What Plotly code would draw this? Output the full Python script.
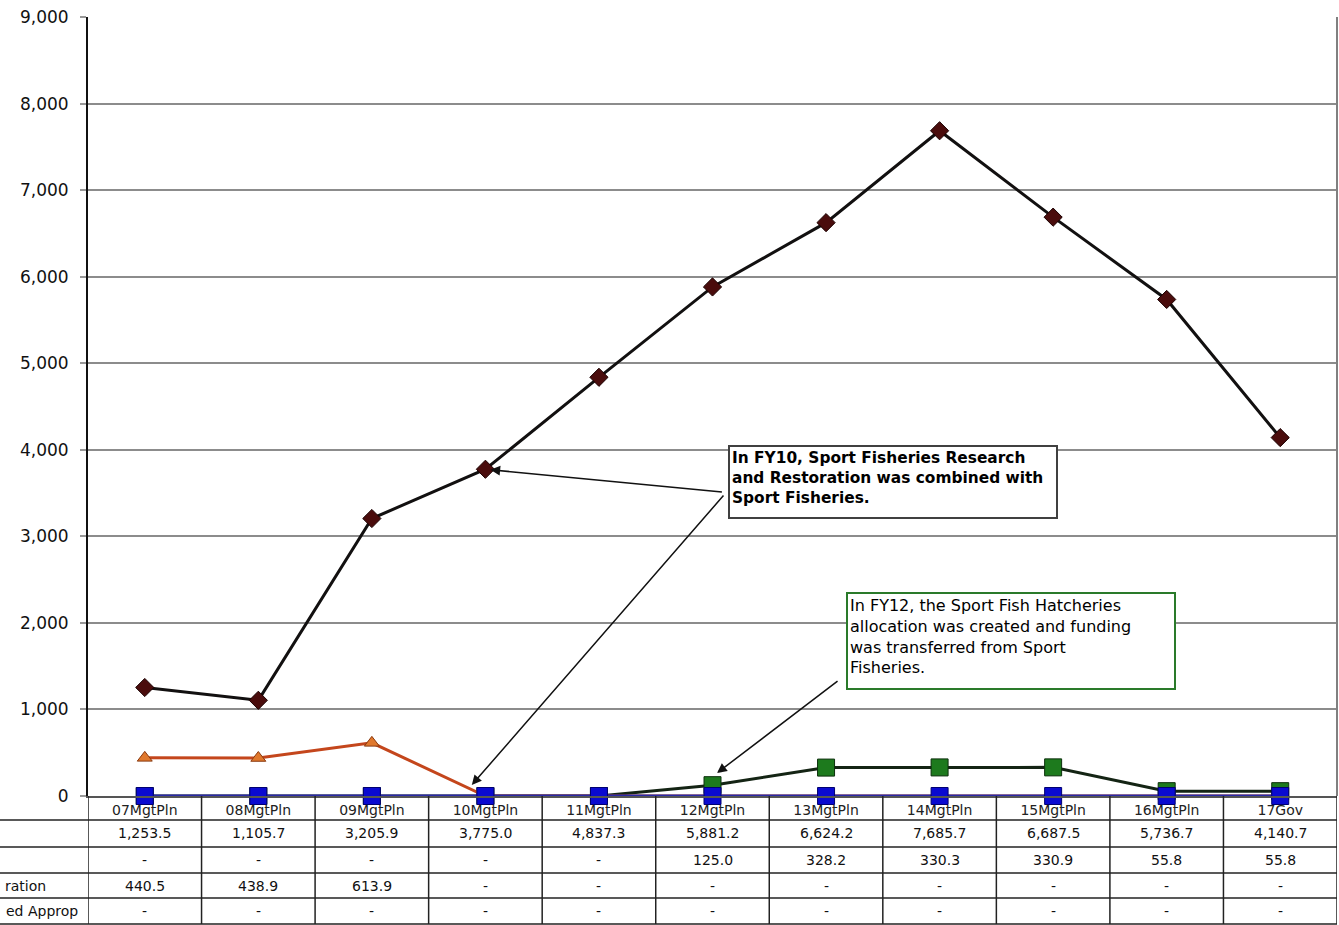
import plotly.graph_objects as go

# ---------------- data ----------------
categories = ["07MgtPln", "08MgtPln", "09MgtPln", "10MgtPln", "11MgtPln", "12MgtPln",
              "13MgtPln", "14MgtPln", "15MgtPln", "16MgtPln", "17Gov"]
sport_fisheries = [1253.5, 1105.7, 3205.9, 3775.0, 4837.3, 5881.2, 6624.2, 7685.7, 6687.5, 5736.7, 4140.7]
sport_fish_hatcheries = [0, 0, 0, 0, 0, 125.0, 328.2, 330.3, 330.9, 55.8, 55.8]
research_restoration = [440.5, 438.9, 613.9, 0, 0, 0, 0, 0, 0, 0, 0]
designated_approp = [0, 0, 0, 0, 0, 0, 0, 0, 0, 0, 0]
# row labels as visible in the (left-cropped) reference table
row_labels = ["", "", "ration", "ed Approp"]
y_tick_values = [0, 1000, 2000, 3000, 4000, 5000, 6000, 7000, 8000, 9000]

# ---------------- layout geometry ----------------
W, H = 1339, 925
ML, MR, MT, MB = 88, 2, 17, 129
PH = H - MT - MB
PW = W - ML - MR


def py(p):  # pixel row -> paper y
    return (H - MB - p) / PH


def px(p):  # pixel col -> paper x
    return (p - ML) / PW


TFONT = "DejaVu Sans"

fig = go.Figure()

fig.add_trace(go.Scatter(
    x=categories, y=sport_fisheries, mode="lines+markers", cliponaxis=False,
    line=dict(color="#121010", width=3),
    marker=dict(symbol="diamond", size=14, color="#4a0c0c", line=dict(color="#1a0000", width=1))))
fig.add_trace(go.Scatter(
    x=categories, y=sport_fish_hatcheries, mode="lines+markers", cliponaxis=False,
    line=dict(color="#142414", width=3),
    marker=dict(symbol="square", size=17, color="#1d7a1d", line=dict(color="#0c300c", width=1))))
fig.add_trace(go.Scatter(
    x=categories, y=research_restoration, mode="lines+markers", cliponaxis=False,
    line=dict(color="#c4461c", width=3),
    marker=dict(symbol="triangle-up", size=13, color="#e0782c", line=dict(color="#8a3a10", width=1))))
fig.add_trace(go.Scatter(
    x=categories, y=designated_approp, mode="lines+markers", cliponaxis=False,
    line=dict(color="#2a2aa8", width=3),
    marker=dict(symbol="square", size=17, color="#0a0ad0", line=dict(color="#000070", width=1))))

shapes = []
annotations = []

# right frame border
shapes.append(dict(type="line", xref="paper", yref="paper", x0=1, x1=1, y0=0, y1=1,
                   line=dict(color="#808080", width=2)))

# ---------------- data table below the chart ----------------
row_lines_px = [820, 847, 873, 898, 924]
for p in row_lines_px:
    shapes.append(dict(type="line", xref="paper", yref="paper", x0=px(0), x1=1,
                       y0=py(p), y1=py(p), line=dict(color="#222222", width=1.5)))
for i in range(len(categories) + 1):
    shapes.append(dict(type="line", xref="x", yref="paper", x0=i - 0.5, x1=i - 0.5,
                       y0=0, y1=py(924), line=dict(color="#222222", width=1.5)))

series_rows = [sport_fisheries, sport_fish_hatcheries, research_restoration, designated_approp]
row_centers_px = [833, 860, 886, 911]
for vals, yc in zip(series_rows, row_centers_px):
    for c, v in zip(categories, vals):
        annotations.append(dict(
            x=c, xref="x", y=py(yc), yref="paper", showarrow=False,
            text=f"{v:,.1f}" if v else "-",
            font=dict(family=TFONT, size=14, color="#111111"),
            xanchor="center", yanchor="middle"))

label_left_px = [2, 2, 3, 4]
for lab, yc, lp in zip(row_labels, row_centers_px, label_left_px):
    if lab:
        annotations.append(dict(
            x=px(lp), xref="paper", y=py(yc), yref="paper", showarrow=False, text=lab,
            font=dict(family=TFONT, size=14, color="#111111"), xanchor="left", yanchor="middle"))

# ---------------- callouts ----------------
annotations.append(dict(
    x=px(728), y=py(445), xref="paper", yref="paper", xanchor="left", yanchor="top",
    showarrow=False, align="left", width=322, height=66, valign="top",
    text="<b>In FY10, Sport Fisheries Research<br>and Restoration was combined with<br>Sport Fisheries.</b>",
    font=dict(family=TFONT, size=15.4, color="#000000"),
    bgcolor="white", bordercolor="#404040", borderwidth=2, borderpad=2))
annotations.append(dict(
    x=px(846), y=py(592), xref="paper", yref="paper", xanchor="left", yanchor="top",
    showarrow=False, align="left", width=322, height=90, valign="top",
    text="In FY12, the Sport Fish Hatcheries<br>allocation was created and funding<br>was transferred from Sport<br>Fisheries.",
    font=dict(family=TFONT, size=16, color="#000000"),
    bgcolor="white", bordercolor="#2a7a2a", borderwidth=2, borderpad=2))

arrow_style = dict(showarrow=True, arrowhead=2, arrowsize=1.3, arrowwidth=1.5,
                   arrowcolor="#111111", text="", xref="x", yref="y", axref="pixel", ayref="pixel")
# to FY10 Sport Fisheries point
annotations.append(dict(x=3, y=sport_fisheries[3], ax=238, ay=23, standoff=5, **arrow_style))
# to FY10 Research & Restoration point (zero)
annotations.append(dict(x=2.88, y=127, ax=253, ay=-291, **arrow_style))
# to FY12 hatcheries point
annotations.append(dict(x=5.04, y=266, ax=122, ay=-93, **arrow_style))

fig.update_layout(
    width=W, height=H,
    margin=dict(l=ML, r=MR, t=MT, b=MB, autoexpand=False),
    paper_bgcolor="white", plot_bgcolor="white",
    showlegend=False,
    shapes=shapes, annotations=annotations,
    xaxis=dict(
        type="category", categoryorder="array", categoryarray=categories,
        range=[-0.5, len(categories) - 0.5], automargin=False,
        showgrid=False, zeroline=False, showline=True, linecolor="#555555", linewidth=2,
        ticks="", ticklabelstandoff=0,
        tickfont=dict(family=TFONT, size=14, color="#222222")),
    yaxis=dict(
        range=[0, 9000], tickvals=y_tick_values, tickformat=",", automargin=False,
        showgrid=True, gridcolor="#8c8c8c", gridwidth=2,
        zeroline=False, showline=True, linecolor="#111111", linewidth=2,
        ticks="outside", ticklen=6, tickcolor="#999999", tickwidth=2, ticklabelstandoff=8,
        tickfont=dict(family=TFONT, size=17, color="#111111")),
)

fig.write_html("out.html", config={"displayModeBar": False},
               post_script="document.body.style.margin='0';")
